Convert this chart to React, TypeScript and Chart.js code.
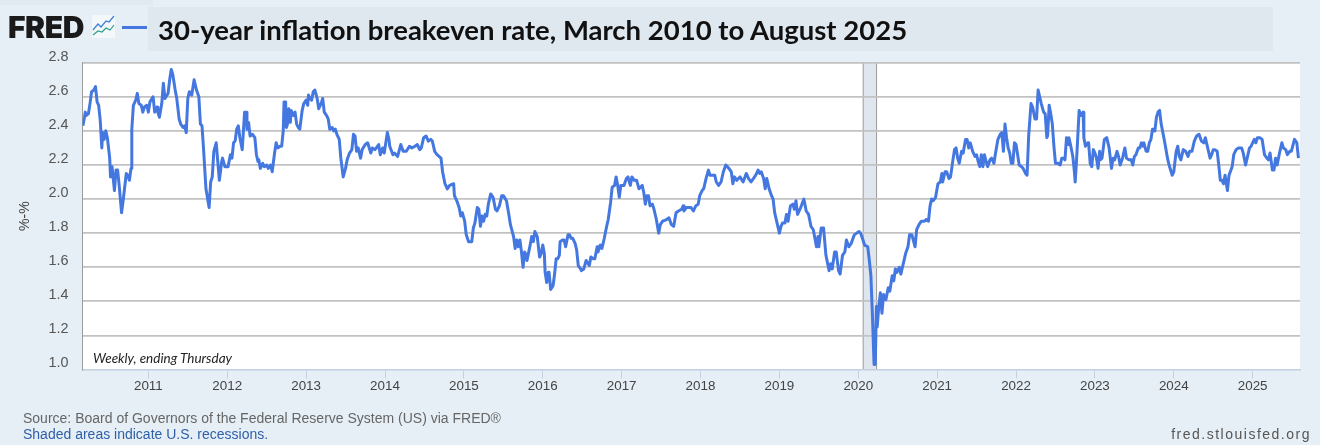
import React, { useEffect, useRef } from "react";
import { Chart, registerables } from "chart.js";

Chart.register(...registerables);

const weekYears = [
  2010.17,2010.19,2010.20,2010.21,2010.24,2010.26,2010.28,2010.31,2010.33,2010.35,2010.37,2010.39,2010.41,2010.42,2010.44,2010.46,2010.48,2010.51,2010.52,2010.54,2010.57,2010.59,2010.61,2010.63,2010.66,2010.68,2010.72,2010.74,2010.76,2010.78,2010.79,2010.81,2010.84,2010.86,2010.88,2010.91,2010.93,2010.95,2010.98,
  2011.00,2011.02,2011.06,2011.08,2011.11,2011.12,2011.14,2011.17,2011.19,2011.21,2011.25,2011.27,2011.29,2011.31,2011.34,2011.36,2011.39,2011.41,2011.44,2011.46,2011.48,2011.50,2011.52,2011.55,2011.58,2011.61,2011.64,2011.66,2011.68,2011.70,2011.73,2011.77,2011.79,2011.81,2011.83,2011.86,2011.88,2011.90,2011.93,2011.94,2011.97,
  2012.01,2012.04,2012.06,2012.08,2012.10,2012.12,2012.14,2012.16,2012.19,2012.22,2012.24,2012.25,2012.27,2012.29,2012.32,2012.35,2012.37,2012.39,2012.40,2012.42,2012.45,2012.47,2012.50,2012.52,2012.55,2012.57,2012.60,2012.62,2012.64,2012.67,2012.69,2012.71,2012.72,2012.74,2012.75,2012.77,2012.78,2012.80,2012.81,2012.84,2012.86,2012.88,2012.90,2012.92,2012.95,2012.97,
  2013.00,2013.02,2013.03,2013.05,2013.07,2013.09,2013.11,2013.14,2013.16,2013.19,2013.21,2013.23,2013.26,2013.28,2013.30,2013.33,2013.35,2013.37,2013.39,2013.42,2013.44,2013.47,2013.50,2013.52,2013.55,2013.58,2013.60,2013.62,2013.64,2013.66,2013.69,2013.71,2013.75,2013.78,2013.82,2013.84,2013.87,2013.89,2013.92,2013.94,2013.97,2013.99,
  2014.03,2014.05,2014.06,2014.10,2014.12,2014.16,2014.20,2014.23,2014.27,2014.31,2014.34,2014.38,2014.41,2014.44,2014.46,2014.49,2014.52,2014.55,2014.58,2014.60,2014.63,2014.66,2014.71,2014.73,2014.76,2014.79,2014.82,2014.87,2014.88,2014.91,2014.94,2014.96,2014.98,
  2015.01,2015.03,2015.06,2015.10,2015.12,2015.14,2015.17,2015.19,2015.21,2015.23,2015.25,2015.27,2015.29,2015.31,2015.34,2015.37,2015.40,2015.42,2015.45,2015.48,2015.50,2015.54,2015.57,2015.59,2015.63,2015.65,2015.67,2015.69,2015.71,2015.73,2015.75,2015.77,2015.79,2015.80,2015.84,2015.86,2015.88,2015.90,2015.93,2015.96,2015.98,
  2016.00,2016.02,2016.03,2016.05,2016.07,2016.08,2016.10,2016.13,2016.15,2016.17,2016.19,2016.21,2016.22,2016.25,2016.27,2016.29,2016.32,2016.34,2016.36,2016.38,2016.41,2016.43,2016.45,2016.48,2016.49,2016.52,2016.55,2016.59,2016.61,2016.64,2016.66,2016.69,2016.70,2016.73,2016.75,2016.78,2016.81,2016.83,2016.86,2016.88,2016.91,2016.93,2016.95,2016.97,2016.99,
  2017.03,2017.06,2017.08,2017.11,2017.13,2017.16,2017.19,2017.22,2017.26,2017.28,2017.30,2017.32,2017.34,2017.36,2017.39,2017.41,2017.44,2017.47,2017.49,2017.52,2017.57,2017.60,2017.63,2017.66,2017.69,2017.72,2017.76,2017.78,2017.79,2017.82,2017.85,2017.88,2017.91,2017.94,2017.97,2017.99,
  2018.02,2018.04,2018.07,2018.10,2018.12,2018.15,2018.18,2018.20,2018.23,2018.26,2018.29,2018.32,2018.36,2018.39,2018.41,2018.43,2018.46,2018.48,2018.50,2018.54,2018.58,2018.61,2018.64,2018.67,2018.70,2018.73,2018.75,2018.77,2018.80,2018.82,2018.84,2018.87,2018.90,2018.92,2018.94,2018.97,
  2019.00,2019.02,2019.04,2019.07,2019.09,2019.11,2019.14,2019.17,2019.19,2019.21,2019.23,2019.27,2019.31,2019.34,2019.37,2019.40,2019.43,2019.47,2019.49,2019.50,2019.53,2019.56,2019.59,2019.63,2019.65,2019.67,2019.70,2019.72,2019.75,2019.77,2019.80,2019.83,2019.85,2019.88,2019.91,2019.95,2019.98,
  2020.01,2020.03,2020.06,2020.08,2020.12,2020.14,2020.16,2020.18,2020.20,2020.215,2020.23,2020.24,2020.26,2020.28,2020.30,2020.32,2020.35,2020.38,2020.40,2020.43,2020.45,2020.47,2020.49,2020.52,2020.54,2020.57,2020.60,2020.63,2020.65,2020.68,2020.72,2020.74,2020.77,2020.80,2020.84,2020.86,2020.89,2020.91,2020.93,2020.95,2020.98,
  2021.01,2021.04,2021.06,2021.07,2021.10,2021.12,2021.15,2021.17,2021.20,2021.22,2021.24,2021.26,2021.28,2021.31,2021.33,2021.36,2021.38,2021.40,2021.42,2021.45,2021.48,2021.50,2021.52,2021.54,2021.56,2021.58,2021.60,2021.62,2021.64,2021.67,2021.69,2021.72,2021.74,2021.77,2021.80,2021.82,2021.84,2021.86,2021.88,2021.90,2021.92,2021.94,2021.96,2021.98,
  2022.00,2022.02,2022.04,2022.07,2022.09,2022.12,2022.14,2022.16,2022.19,2022.21,2022.24,2022.26,2022.28,2022.30,2022.32,2022.35,2022.37,2022.39,2022.40,2022.42,2022.44,2022.46,2022.48,2022.50,2022.53,2022.56,2022.58,2022.61,2022.62,2022.64,2022.66,2022.67,2022.69,2022.72,2022.74,2022.75,2022.77,2022.80,2022.82,2022.85,2022.86,2022.88,2022.91,2022.92,2022.94,2022.96,2022.98,
  2023.00,2023.02,2023.04,2023.06,2023.07,2023.09,2023.12,2023.15,2023.18,2023.21,2023.23,2023.25,2023.28,2023.30,2023.32,2023.35,2023.38,2023.40,2023.43,2023.46,2023.48,2023.50,2023.52,2023.55,2023.57,2023.59,2023.61,2023.62,2023.65,2023.67,2023.69,2023.71,2023.73,2023.75,2023.76,2023.78,2023.80,2023.82,2023.84,2023.87,2023.89,2023.92,2023.94,2023.98,
  2024.00,2024.03,2024.05,2024.07,2024.09,2024.12,2024.15,2024.18,2024.20,2024.23,2024.26,2024.29,2024.32,2024.35,2024.38,2024.40,2024.42,2024.46,2024.48,2024.50,2024.52,2024.55,2024.57,2024.59,2024.61,2024.63,2024.65,2024.68,2024.70,2024.74,2024.76,2024.79,2024.82,2024.86,2024.88,2024.91,2024.93,2024.96,2024.98,
  2025.01,2025.02,2025.04,2025.06,2025.09,2025.12,2025.15,2025.18,2025.20,2025.22,2025.25,2025.27,2025.29,2025.31,2025.34,2025.37,2025.39,2025.42,2025.44,2025.47,2025.49,2025.53,2025.56,2025.58,
];

const breakevenRate = [
  2.43,2.48,2.51,2.49,2.50,2.56,2.63,2.64,2.66,2.57,2.55,2.46,2.30,2.39,2.35,2.40,2.36,2.24,2.13,2.19,2.05,2.17,2.17,2.08,1.92,1.99,2.15,2.14,2.11,2.18,2.41,2.55,2.58,2.62,2.56,2.55,2.51,2.54,2.55,
  2.51,2.57,2.60,2.51,2.54,2.51,2.48,2.56,2.68,2.59,2.62,2.70,2.76,2.73,2.64,2.59,2.47,2.44,2.42,2.43,2.39,2.59,2.63,2.61,2.70,2.64,2.60,2.44,2.43,2.29,2.06,1.95,2.10,2.13,2.28,2.33,2.22,2.11,2.22,2.24,2.19,
  2.19,2.26,2.24,2.33,2.34,2.41,2.43,2.36,2.29,2.51,2.51,2.41,2.45,2.37,2.38,2.36,2.26,2.22,2.23,2.18,2.21,2.19,2.20,2.18,2.20,2.16,2.27,2.33,2.30,2.31,2.31,2.40,2.57,2.57,2.42,2.45,2.53,2.45,2.52,2.49,2.51,2.44,2.42,2.41,2.52,2.56,
  2.58,2.55,2.61,2.59,2.58,2.63,2.64,2.59,2.53,2.56,2.59,2.51,2.49,2.47,2.41,2.42,2.40,2.41,2.38,2.35,2.24,2.13,2.18,2.23,2.27,2.29,2.38,2.37,2.28,2.30,2.24,2.29,2.32,2.33,2.27,2.30,2.29,2.30,2.32,2.26,2.30,2.27,
  2.39,2.35,2.31,2.26,2.27,2.25,2.32,2.28,2.28,2.31,2.30,2.31,2.32,2.29,2.30,2.36,2.37,2.34,2.35,2.34,2.28,2.26,2.24,2.16,2.09,2.06,2.08,2.09,2.02,1.99,1.95,1.90,1.92,
  1.87,1.79,1.75,1.75,1.83,1.86,1.95,1.94,1.84,1.90,1.87,1.91,1.90,1.97,2.03,2.01,1.94,1.93,1.96,2.02,2.02,1.99,1.91,1.85,1.78,1.71,1.76,1.72,1.76,1.69,1.60,1.69,1.67,1.64,1.73,1.78,1.75,1.81,1.78,1.66,1.68,
  1.73,1.68,1.57,1.51,1.57,1.57,1.47,1.49,1.56,1.65,1.65,1.67,1.75,1.76,1.76,1.72,1.79,1.79,1.77,1.77,1.74,1.70,1.61,1.59,1.58,1.59,1.64,1.61,1.66,1.65,1.65,1.72,1.69,1.73,1.71,1.77,1.84,1.88,1.98,2.07,2.08,2.13,2.08,2.01,2.08,
  2.08,2.12,2.13,2.08,2.13,2.11,2.11,2.06,2.08,2.04,1.97,2.02,2.02,1.96,1.97,1.94,1.88,1.80,1.85,1.87,1.88,1.89,1.85,1.84,1.92,1.93,1.94,1.96,1.93,1.95,1.95,1.95,1.93,1.96,1.97,2.02,
  2.05,2.06,2.12,2.17,2.14,2.14,2.14,2.10,2.08,2.10,2.16,2.20,2.18,2.16,2.09,2.13,2.11,2.12,2.13,2.10,2.15,2.12,2.10,2.12,2.14,2.17,2.15,2.16,2.12,2.06,2.12,2.06,2.02,2.00,1.92,1.86,
  1.80,1.84,1.86,1.86,1.91,1.87,1.96,1.97,1.94,1.99,1.91,1.95,2.00,1.93,1.91,1.84,1.82,1.72,1.78,1.72,1.83,1.83,1.67,1.58,1.62,1.59,1.69,1.69,1.58,1.56,1.67,1.69,1.76,1.72,1.74,1.79,1.80,
  1.81,1.80,1.76,1.73,1.72,1.64,1.55,1.31,1.03,1.03,1.37,1.25,1.37,1.45,1.33,1.44,1.41,1.48,1.46,1.55,1.52,1.59,1.57,1.60,1.56,1.62,1.68,1.72,1.79,1.79,1.72,1.82,1.85,1.87,1.87,1.88,1.87,1.96,2.00,1.99,2.01,
  2.09,2.10,2.15,2.10,2.16,2.16,2.12,2.13,2.23,2.29,2.30,2.24,2.21,2.28,2.27,2.35,2.35,2.30,2.33,2.28,2.25,2.26,2.22,2.19,2.26,2.19,2.26,2.22,2.19,2.23,2.24,2.21,2.27,2.35,2.38,2.39,2.28,2.44,2.36,2.30,2.27,2.21,2.21,2.33,
  2.32,2.26,2.20,2.19,2.18,2.15,2.14,2.37,2.56,2.54,2.47,2.47,2.64,2.60,2.56,2.51,2.50,2.36,2.37,2.55,2.50,2.44,2.31,2.21,2.21,2.20,2.24,2.24,2.23,2.36,2.32,2.36,2.32,2.25,2.16,2.10,2.25,2.52,2.49,2.51,2.36,2.31,2.33,2.33,2.21,2.19,2.29,
  2.27,2.24,2.18,2.28,2.23,2.24,2.35,2.36,2.30,2.18,2.24,2.23,2.28,2.25,2.20,2.24,2.30,2.24,2.23,2.23,2.20,2.25,2.26,2.30,2.30,2.33,2.31,2.33,2.28,2.28,2.33,2.35,2.41,2.41,2.40,2.48,2.51,2.52,2.44,2.37,2.32,2.24,2.20,2.14,
  2.16,2.28,2.31,2.25,2.23,2.29,2.28,2.25,2.28,2.28,2.34,2.37,2.38,2.34,2.33,2.36,2.32,2.24,2.26,2.29,2.29,2.28,2.20,2.11,2.11,2.09,2.14,2.05,2.14,2.19,2.26,2.29,2.30,2.30,2.27,2.20,2.24,2.30,2.31,
  2.34,2.35,2.33,2.36,2.36,2.35,2.26,2.24,2.23,2.27,2.17,2.17,2.24,2.20,2.27,2.33,2.30,2.29,2.26,2.28,2.28,2.35,2.33,2.24,
];

const yearTicks = [2011, 2012, 2013, 2014, 2015, 2016, 2017, 2018, 2019, 2020, 2021, 2022, 2023, 2024, 2025];
const rateTicks = [1.0, 1.2, 1.4, 1.6, 1.8, 2.0, 2.2, 2.4, 2.6, 2.8];
const recessionStart = 2020.062;
const recessionEnd = 2020.232;
const xMin = 2010.165;
const xMax = 2025.6;

const SANS = '"Liberation Sans", Arial, sans-serif';
const LINE = "#4478e0";

const backdrop = {
  id: "backdrop",
  beforeDraw(chart: any) {
    const { ctx, chartArea: a, scales } = chart;
    ctx.save();
    ctx.fillStyle = "#ffffff";
    ctx.fillRect(a.left, a.top, a.right - a.left, a.bottom - a.top);
    const x0 = scales.x.getPixelForValue(recessionStart);
    const x1 = scales.x.getPixelForValue(recessionEnd);
    ctx.fillStyle = "#e0e6ee";
    ctx.fillRect(x0, a.top, x1 - x0, a.bottom - a.top);
    ctx.strokeStyle = "#9a9a9a";
    ctx.lineWidth = 1;
    ctx.beginPath();
    ctx.moveTo(x0, a.top);
    ctx.lineTo(x0, a.bottom);
    ctx.moveTo(x1, a.top);
    ctx.lineTo(x1, a.bottom);
    ctx.stroke();
    ctx.restore();
  },
};

const abs = (s: React.CSSProperties): React.CSSProperties => ({ position: "absolute", whiteSpace: "nowrap", ...s });

export default function App() {
  const ref = useRef<HTMLCanvasElement>(null);
  useEffect(() => {
    document.body.style.margin = "0";
    document.body.style.background = "#e6eff6";
    const chart = new Chart(ref.current!, {
      type: "line",
      data: {
        datasets: [
          {
            label: "30-year inflation breakeven rate",
            data: weekYears.map((x, i) => ({ x, y: breakevenRate[i] })),
            borderColor: LINE,
            borderWidth: 3,
            pointRadius: 0,
            tension: 0,
            borderJoinStyle: "round",
          },
        ],
      },
      options: {
        animation: false,
        responsive: false,
        layout: { padding: { left: 0, right: 20, top: 62.7, bottom: 0 } },
        plugins: { legend: { display: false }, tooltip: { enabled: false } },
        scales: {
          x: {
            type: "linear",
            min: xMin,
            max: xMax,
            afterBuildTicks: (s: any) => {
              s.ticks = yearTicks.map((value) => ({ value }));
            },
            afterFit: (s: any) => {
              s.height = 75.5;
            },
            grid: { drawOnChartArea: false, drawTicks: true, tickLength: 9, tickColor: "#c3d0e2", lineWidth: 1 },
            border: { color: "#c3d0e2", width: 1.5 },
            ticks: {
              autoSkip: false,
              maxRotation: 0,
              padding: 0,
              color: "#444444",
              font: { family: SANS, size: 13.4 },
              callback: (v: any) => String(v),
            },
          },
          y: {
            type: "linear",
            min: 1.0,
            max: 2.8,
            afterBuildTicks: (s: any) => {
              s.ticks = rateTicks.map((value) => ({ value }));
            },
            afterFit: (s: any) => {
              s.width = 82.5;
            },
            title: {
              display: true,
              text: "%-%",
              color: "#444444",
              font: { family: SANS, size: 14 },
              padding: { top: 17, bottom: 0 },
            },
            grid: {
              drawTicks: false,
              lineWidth: 1.7,
              color: (c: any) => (c.tick && c.tick.value === 1.0 ? "rgba(0,0,0,0)" : "#c2c2c2"),
            },
            border: { color: "#9c9c9c", width: 1 },
            ticks: {
              autoSkip: false,
              padding: 14,
              labelOffset: -6,
              color: "#555555",
              font: { family: SANS, size: 14.4 },
              callback: (v: any) => Number(v).toFixed(1),
            },
          },
        },
      } as any,
      plugins: [backdrop],
    });
    return () => chart.destroy();
  }, []);

  return (
    <div style={{ position: "relative", width: 1320, height: 445, overflow: "hidden", background: "#e6eff6" }}>
      <canvas ref={ref} width={1320} height={445} style={{ position: "absolute", left: 0, top: 0, display: "block" }} />
      <div style={abs({ left: 0, top: 0, width: 153, height: 5, background: "#e2eaf1" })} />
      <div style={abs({ left: 148, top: 7, width: 1125, height: 44, background: "#dfe7ef" })} />
      <div
        style={abs({
          left: 8,
          top: 9,
          fontFamily: "Inter, sans-serif",
          fontWeight: 900,
          fontSize: 30,
          letterSpacing: -0.4,
          color: "#1a1a1a",
          lineHeight: "36px",
        })}
      >
        FRED
      </div>
      <svg style={{ position: "absolute", left: 92, top: 15 }} width={23} height={23} viewBox="0 0 23 23">
        <rect width="23" height="23" fill="#f4f8fb" />
        <polyline points="1,15 6,9 9,12 14,6 17,7 22,1" fill="none" stroke="#3a7fd8" strokeWidth="1.2" />
        <polyline points="1,20 6,16 10,17 14,13 18,15 22,10" fill="none" stroke="#2da08a" strokeWidth="1.2" />
      </svg>
      <div style={abs({ left: 122, top: 25.5, width: 25, height: 3, background: LINE })} />
      <div
        style={abs({
          left: 158,
          top: 12,
          fontFamily: "Lato, sans-serif",
          fontWeight: 700,
          fontSize: 27.5,
          color: "#111111",
          lineHeight: "36px",
        })}
      >
        30-year inflation breakeven rate, March 2010 to August 2025
      </div>
      <div
        style={abs({
          left: 93,
          top: 349,
          fontFamily: "Lato, sans-serif",
          fontStyle: "italic",
          fontSize: 13.5,
          color: "#222222",
          lineHeight: "18px",
        })}
      >
        Weekly, ending Thursday
      </div>
      <div style={abs({ left: 23, top: 411, fontFamily: SANS, fontSize: 14, color: "#666666", lineHeight: "15px" })}>
        Source: Board of Governors of the Federal Reserve System (US) via FRED®
      </div>
      <div style={abs({ left: 23, top: 427, fontFamily: SANS, fontSize: 14, color: "#2f5fa8", lineHeight: "15px" })}>
        Shaded areas indicate U.S. recessions.
      </div>
      <div
        style={abs({
          right: 9,
          top: 427,
          fontFamily: SANS,
          fontSize: 14,
          letterSpacing: 1.5,
          color: "#555555",
          lineHeight: "15px",
        })}
      >
        fred.stlouisfed.org
      </div>
    </div>
  );
}
